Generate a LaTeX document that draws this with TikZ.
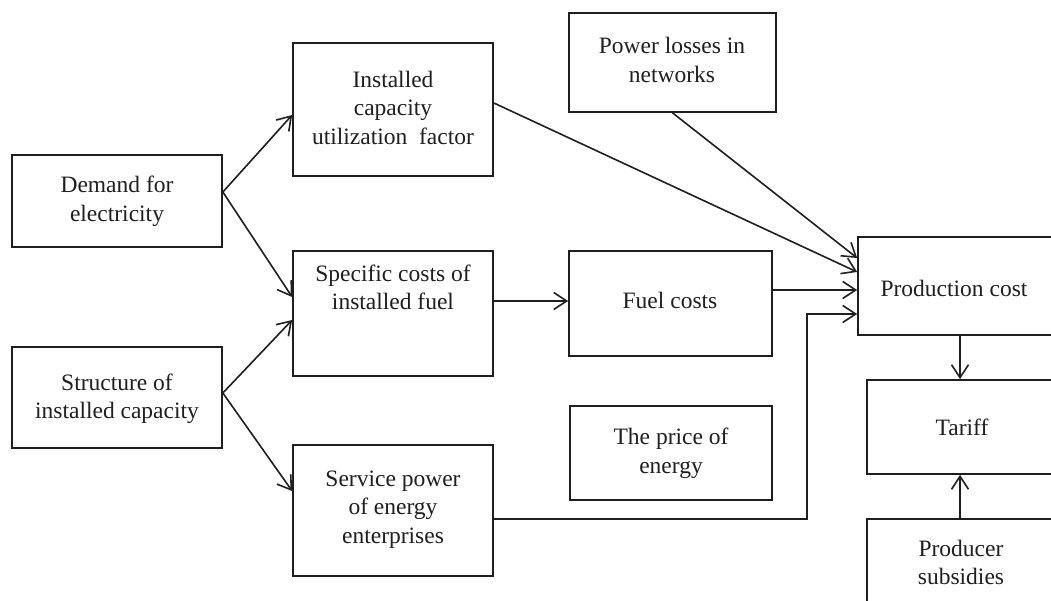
\documentclass[tikz,border=0pt]{standalone}
\usepackage{fontspec}
\setmainfont{Liberation Serif}
\usetikzlibrary{arrows.meta,calc}
\begin{document}
\begin{tikzpicture}[x=1pt,y=-1pt,
  box/.style={draw=black!88,line width=1.7pt,rectangle,inner sep=0pt},
  txt/.style={align=center,inner sep=0pt,font=\fontsize{23.5}{28.5}\selectfont,text=black!88},
  arr/.style={line width=1.6pt,draw=black!88,-{Straight Barb[length=13pt,width=17pt,line width=1.6pt]}}]
\useasboundingbox (0,0) rectangle (1051,601);
\fill[white] (0,0) rectangle (1051,601);
\clip (0,0) rectangle (1051,601);
% boxes
\node[box,minimum width=210pt,minimum height=92pt]  (dem)   at (117,201) {};
\node[box,minimum width=210pt,minimum height=101pt] (str)   at (117,397.5) {};
\node[box,minimum width=200pt,minimum height=133pt] (inst)  at (393,109.5) {};
\node[box,minimum width=200pt,minimum height=125pt] (spec)  at (393,313.5) {};
\node[box,minimum width=200pt,minimum height=131pt] (serv)  at (393,510.5) {};
\node[box,minimum width=207pt,minimum height=99pt]  (pow)   at (672.5,62.5) {};
\node[box,minimum width=203pt,minimum height=105pt] (fuel)  at (670.5,303.5) {};
\node[box,minimum width=202pt,minimum height=94pt]  (price) at (671,453) {};
\node[box,minimum width=195pt,minimum height=98pt]  (prod)  at (955.5,286) {};
\node[box,minimum width=186pt,minimum height=94pt]  (tar)   at (960,427) {};
\node[box,minimum width=186pt,minimum height=101pt] (sub)   at (960,569.5) {};
% texts
\node[txt] (demT)   at (117,201.5) {Demand for\\electricity};
\node[txt] (strT)   at (117,399) {Structure of\\installed capacity};
\node[txt] (instT)  at (393,107.5) {Installed\\capacity\\utilization\ \ factor};
\node[txt] (specT)  at (393,287.5) {Specific costs of\\installed fuel};
\node[txt] (servT)  at (393,509.5) {Service power\\of energy\\enterprises};
\node[txt] (powT)   at (672,60) {Power losses in\\networks};
\node[txt] (fuelT)  at (670,300) {Fuel costs};
\node[txt] (priceT) at (671,453.5) {The price of\\energy};
\node[txt] (prodT)  at (954,288) {Production cost};
\node[txt] (tarT)   at (962,427) {Tariff};
\node[txt] (subT)   at (961,562.5) {Producer\\subsidies};
% connectors
\draw[arr] ($(dem.east)+(0,-9)$) -- ($(inst.west)+(0,5.5)$);
\draw[arr] ($(dem.east)+(0,-9)$) -- ($(spec.west)+(0,-16.5)$);
\draw[arr] ($(str.east)+(0,-4.5)$) -- ($(spec.west)+(0,6.5)$);
\draw[arr] ($(str.east)+(0,-4.5)$) -- ($(serv.west)+(0,-19.5)$);
\draw[arr] ($(inst.east)+(0,-6.5)$) -- ($(prod.west)+(0,-14)$);
\draw[arr] (pow.south) -- ($(prod.west)+(0,-28)$);
\draw[arr] ($(spec.east)+(0,-12.5)$) -- ($(fuel.west)+(0,-2.5)$);
\draw[arr] ($(fuel.east)+(0,-13.5)$) -- ($(prod.west)+(0,4)$);
\coordinate (bend) at ($(prod.west)+(-50,28)$);
\draw[arr] ($(serv.east)+(0,8.5)$) -| (bend) -- ($(prod.west)+(0,28)$);
\draw[arr] (prod.south -| tar.north) -- (tar.north);
\draw[arr] (sub.north) -- (tar.south);
\end{tikzpicture}
\end{document}
